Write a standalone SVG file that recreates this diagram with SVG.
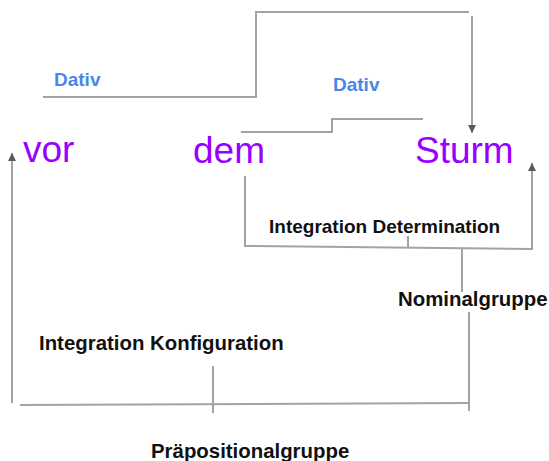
<svg xmlns="http://www.w3.org/2000/svg" width="549" height="461" viewBox="0 0 549 461">
<style>
.ln{fill:none;stroke:#a3a3a3;stroke-width:2}
.w{font-family:"Liberation Sans",Arial,sans-serif;font-size:37px;fill:#9900ff}
.d{font-family:"Liberation Sans",Arial,sans-serif;font-size:19px;font-weight:bold;fill:#4a86e8}
.l{font-family:"Liberation Sans",Arial,sans-serif;font-size:20.4px;font-weight:bold;fill:#111}
</style>
<defs>
<marker id="ah" viewBox="0 0 10 10" refX="10" refY="5" markerWidth="4" markerHeight="4" orient="auto" markerUnits="strokeWidth">
<path d="M0,0 L10,5 L0,10 z" fill="#5a5a5a"/>
</marker>
</defs>
<rect width="549" height="461" fill="#fff"/>
<g id="connectors">
<path class="ln" d="M43,97 H256 V12 H469"/>
<path class="ln" d="M472,16 V133" marker-end="url(#ah)"/>
<path class="ln" d="M241,132 H332 V119 H423"/>
<path class="ln" d="M245,176 V246 L532,249 V163" marker-end="url(#ah)"/>
<path class="ln" d="M408,236 V247"/>
<path class="ln" d="M462,249 V292"/>
<path class="ln" d="M469,312 V411"/>
<path class="ln" d="M12,403 V153" marker-end="url(#ah)"/>
<path class="ln" d="M20,405 L470,403"/>
<path class="ln" d="M213,366 V413"/>
</g>
<g id="dativ1"><text class="d" x="54" y="86">Dativ</text></g>
<g id="dativ2"><text class="d" x="333" y="91">Dativ</text></g>
<g id="vor"><text class="w" x="23" y="162">vor</text></g>
<g id="dem"><text class="w" x="193" y="163">dem</text></g>
<g id="sturm"><text class="w" x="415" y="163">Sturm</text></g>
<g id="integration-determination"><text class="l" x="269" y="233" style="font-size:19px">Integration Determination</text></g>
<g id="nominalgruppe"><text class="l" x="398" y="306">Nominalgruppe</text></g>
<g id="integration-konfiguration"><text class="l" x="39" y="350">Integration Konfiguration</text></g>
<g id="praepositionalgruppe"><text class="l" x="151" y="458">Präpositionalgruppe</text></g>
</svg>
